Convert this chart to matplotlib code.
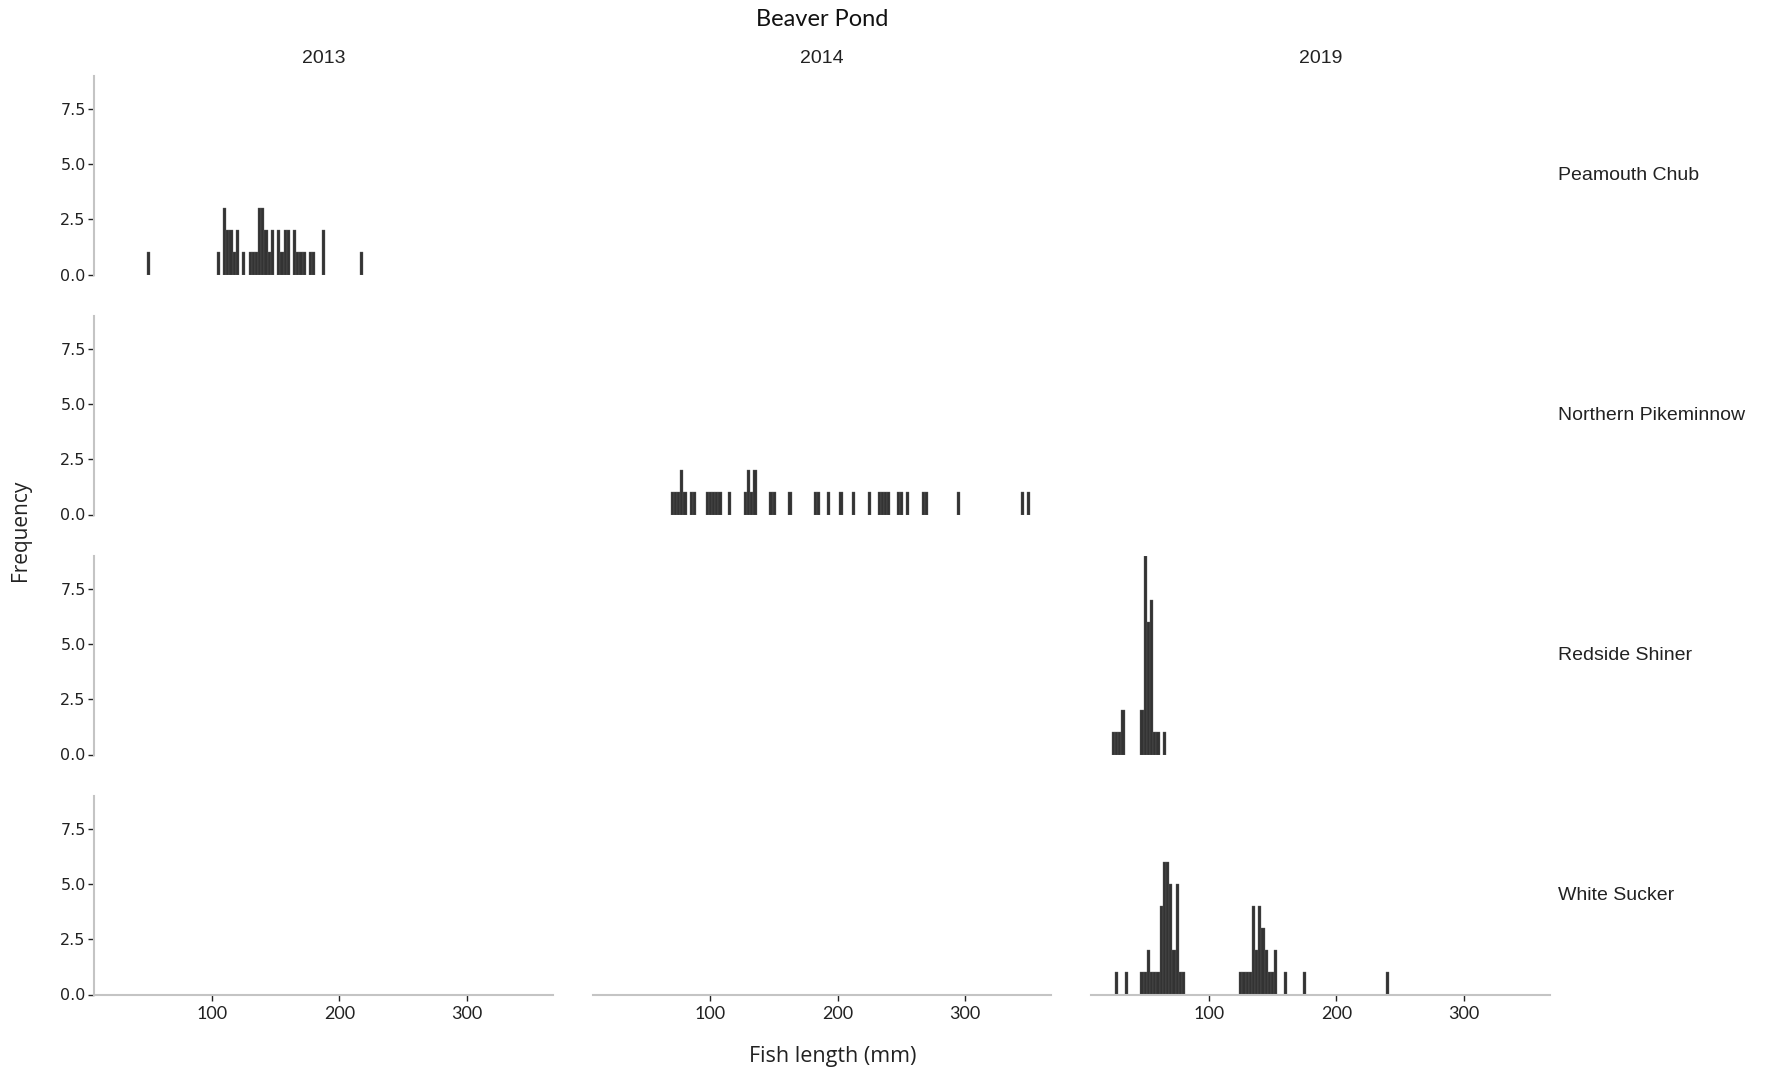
import matplotlib
matplotlib.use('Agg')

import matplotlib.pyplot as plt
import numpy as np

BIN_W = 2.5  # histogram bin width, mm

species = ['Peamouth Chub', 'Northern Pikeminnow', 'Redside Shiner', 'White Sucker']
years = ['2013', '2014', '2019']

# bin centres (mm) and counts for each species/year that has catches
chub_2013_len = [50, 105, 110, 112.5, 115, 117.5, 120, 125, 130, 132.5, 135, 137.5, 140,
                 142.5, 145, 147.5, 152.5, 155, 157.5, 160, 165, 167.5, 170, 172.5,
                 177.5, 180, 187.5, 217.5]
chub_2013_n = [1, 1, 3, 2, 2, 1, 2, 1, 1, 1, 1, 3, 3,
               2, 1, 2, 2, 1, 2, 2, 2, 1, 1, 1,
               1, 1, 2, 1]

pike_2014_len = [70, 72.5, 75, 77.5, 80, 85, 87.5, 97.5, 100, 102.5, 105, 107.5, 115,
                 127.5, 130, 132.5, 135, 147.5, 150, 162.5, 182.5, 185, 192.5, 202.5,
                 212.5, 225, 232.5, 235, 237.5, 240, 247.5, 250, 255, 267.5, 270,
                 295, 345, 350]
pike_2014_n = [1, 1, 1, 2, 1, 1, 1, 1, 1, 1, 1, 1, 1,
               1, 2, 1, 2, 1, 1, 1, 1, 1, 1, 1,
               1, 1, 1, 1, 1, 1, 1, 1, 1, 1, 1,
               1, 1, 1]

shiner_2019_len = [25, 27.5, 30, 32.5, 47.5, 50, 52.5, 55, 57.5, 60, 65]
shiner_2019_n = [1, 1, 1, 2, 2, 9, 6, 7, 1, 1, 1]

sucker_2019_len = [27.5, 35, 47.5, 50, 52.5, 55, 57.5, 60, 62.5, 65, 67.5, 70, 72.5,
                   75, 77.5, 80, 125, 127.5, 130, 132.5, 135, 137.5, 140, 142.5, 145,
                   147.5, 150, 152.5, 160, 175, 240]
sucker_2019_n = [1, 1, 1, 1, 2, 1, 1, 1, 4, 6, 6, 5, 2,
                 5, 1, 1, 1, 1, 1, 1, 4, 2, 4, 3, 2,
                 1, 1, 2, 1, 1, 1]

catches = {
    ('Peamouth Chub', '2013'): (chub_2013_len, chub_2013_n),
    ('Northern Pikeminnow', '2014'): (pike_2014_len, pike_2014_n),
    ('Redside Shiner', '2019'): (shiner_2019_len, shiner_2019_n),
    ('White Sucker', '2019'): (sucker_2019_len, sucker_2019_n),
}

# shared x range: full bin extent plus 5% padding on each side
all_len = np.concatenate([np.array(v[0]) for v in catches.values()])
lo, hi = all_len.min() - BIN_W / 2, all_len.max() + BIN_W / 2
pad = 0.05 * (hi - lo)
x_lim = (lo - pad, hi + pad)

W, H = 1770, 1070
fig = plt.figure(figsize=(W / 100, H / 100), dpi=100)

left0, pw, colstep = 94 / W, 458.7 / W, 498.5 / W
bottom0, ph, rowstep = (H - 994.5) / H, 199 / H, 240 / H

axis_grey = '#c4c4c4'
text_col = '#222222'
bar_col = '#333333'

for r, sp in enumerate(species):
    for c, yr in enumerate(years):
        ax = fig.add_axes([left0 + c * colstep, bottom0 + (3 - r) * rowstep, pw, ph])
        if (sp, yr) in catches:
            lens, n = catches[(sp, yr)]
            ax.bar(lens, n, width=BIN_W, color=bar_col, edgecolor='#606060',
                   linewidth=0.25)
        ax.set_xlim(*x_lim)
        ax.set_ylim(0, 9)
        ax.set_xticks([100, 200, 300])
        ax.set_yticks([0, 2.5, 5, 7.5])
        ax.set_yticklabels(['0.0', '2.5', '5.0', '7.5'])
        for s in ['top', 'right']:
            ax.spines[s].set_visible(False)
        for s in ['left', 'bottom']:
            ax.spines[s].set_color(axis_grey)
            ax.spines[s].set_linewidth(1.5)
        ax.tick_params(axis='both', color=text_col, length=4, width=1,
                       labelcolor=text_col)
        ax.tick_params(axis='y', labelsize=11.5, pad=2)
        ax.tick_params(axis='x', labelsize=13, pad=4)
        for lab in ax.get_xticklabels():
            lab.set_family('Lato')
        if c != 0:
            ax.spines['left'].set_visible(False)
            ax.tick_params(axis='y', left=False, labelleft=False)
        if r != 3:
            ax.spines['bottom'].set_visible(False)
            ax.tick_params(axis='x', bottom=False, labelbottom=False)
        ax.set_facecolor('none')

        if r == 0:
            fig.text(left0 + c * colstep + pw / 2, (H - 58.7) / H, yr,
                     ha='center', va='center', fontsize=14,
                     family='Liberation Sans', color=text_col)
        if c == 2:
            fig.text(1557.7 / W, bottom0 + (3 - r) * rowstep + ph / 2, sp,
                     ha='left', va='center', fontsize=14,
                     family='Liberation Sans', color=text_col)

fig.text(821.9 / W, (H - 19.2) / H, 'Beaver Pond', ha='center', va='center',
         fontsize=17, family='Lato', color='#111111')
fig.text(833 / W, (H - 1056.6) / H, 'Fish length (mm)', ha='center', va='center',
         fontsize=15.5, family='Open Sans', color=text_col)
fig.text(20.3 / W, (H - 530) / H, 'Frequency', ha='center', va='center',
         rotation=90, fontsize=15, family='Open Sans', color=text_col)

fig.savefig('out.png', dpi=100, facecolor='white')
